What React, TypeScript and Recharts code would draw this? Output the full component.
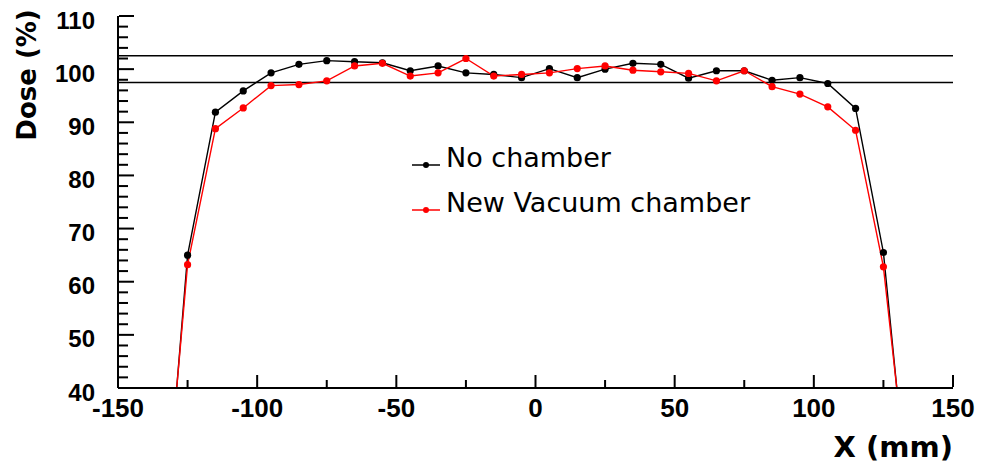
import React from 'react';
import { LineChart, Line, XAxis, YAxis, ReferenceLine, Legend } from 'recharts';

// X positions (mm) of the measurement points
const xPositions = [-130, -125, -115, -105, -95, -85, -75, -65, -55, -45, -35, -25, -15, -5, 5, 15, 25, 35, 45, 55, 65, 75, 85, 95, 105, 115, 125, 130];
// Dose (%) without chamber
const noChamber = [33, 65.0, 91.9, 95.9, 99.3, 100.9, 101.6, 101.4, 101.2, 99.7, 100.6, 99.3, 99.0, 98.4, 100.1, 98.4, 100.0, 101.1, 100.9, 98.3, 99.7, 99.7, 97.9, 98.4, 97.3, 92.6, 65.5, 39];
// Dose (%) with the new vacuum chamber
const newVacuumChamber = [33.5, 63.2, 88.8, 92.7, 96.9, 97.1, 97.8, 100.6, 101.1, 98.7, 99.3, 102.0, 98.7, 99.0, 99.3, 100.1, 100.6, 99.8, 99.5, 99.2, 97.8, 99.7, 96.7, 95.3, 92.9, 88.5, 62.8, 39];

const seriesNames = ['No chamber', 'New Vacuum chamber'];
const seriesColors = ['#000000', '#ff0000'];

const xTicks = [-150, -125, -100, -75, -50, -25, 0, 25, 50, 75, 100, 125, 150];
const xLabelled = [-150, -100, -50, 0, 50, 100, 150];
const yTicks = [40, 42, 44, 46, 48, 50, 52, 54, 56, 58, 60, 62, 64, 66, 68, 70, 72, 74, 76, 78, 80, 82, 84, 86, 88, 90, 92, 94, 96, 98, 100, 102, 104, 106, 108, 110];
const yLabelled = [40, 50, 60, 70, 80, 90, 100, 110];
const toleranceBand = [97.5, 102.5];

const xTitle = 'X (mm)';
const yTitle = 'Dose (%)';

const data = xPositions.map((x, i) => ({ x, noChamber: noChamber[i], newVacuumChamber: newVacuumChamber[i] }));

const tickFont = '"Liberation Sans", Arial, sans-serif';
const titleFont = '"DejaVu Sans", sans-serif';
const tickColor = '#000000';

const YTick = (props: any) => {
  const { x, y, payload } = props;
  const v = payload.value;
  const major = yLabelled.includes(v);
  const len = major ? 15 : 9;
  return (
    <g>
      <rect x={Number(x) + 1} y={Number(y) - 1} width={len} height={2} fill={tickColor} />
      {major && (
        <text x={x - 23} y={y + 4} textAnchor="end" dominantBaseline="central" fontFamily={tickFont} fontWeight="bold" fontSize={24} fill="#000">
          {v}
        </text>
      )}
    </g>
  );
};

const XTick = (props: any) => {
  const { x, y, payload } = props;
  const v = payload.value;
  const major = xLabelled.includes(v);
  const len = major ? 12 : 7;
  return (
    <g>
      <rect x={Number(x) - 1} y={Number(y) - len - 1} width={2} height={len} fill={tickColor} />
      {major && (
        <text x={x} y={y + 29} textAnchor="middle" fontFamily={tickFont} fontWeight="bold" fontSize={26} fill="#000">
          {v}
        </text>
      )}
    </g>
  );
};

const makeDot = (color: string) => (props: any) => {
  const { cx, cy, value, index } = props;
  if (value < 40 || value > 110) return <g key={`d${index}`} />;
  return <circle key={`d${index}`} cx={cx} cy={cy} r={3.6} fill={color} stroke="none" />;
};

const renderLegend = (props: any) => {
  const payload = [...(props.payload || [])].sort(
    (a: any, b: any) => seriesNames.indexOf(a.value) - seriesNames.indexOf(b.value)
  );
  return (
    <svg width={420} height={100} style={{ overflow: 'visible', display: 'block' }}>
      {payload.map((e: any, i: number) => {
        const cy = 25 + i * 45;
        return (
          <g key={e.value}>
            <line x1={0} x2={28} y1={cy} y2={cy} stroke={e.color} strokeWidth={1.5} />
            <circle cx={14} cy={cy} r={3} fill={e.color} />
            <text x={34} y={cy + 2} fontFamily={titleFont} fontSize={27} fill="#000">
              {e.value}
            </text>
          </g>
        );
      })}
    </svg>
  );
};

const YTitle = (props: any) => {
  const vb = props.viewBox || { x: 0, y: 16, width: 118, height: 372 };
  const tx = vb.x + 36;
  const ty = vb.y + 59;
  return (
    <text x={tx} y={ty} transform={`rotate(-90, ${tx}, ${ty})`} textAnchor="middle" fontFamily={titleFont} fontWeight="bold" fontSize={26} fill="#000">
      {yTitle}
    </text>
  );
};

const XTitle = (props: any) => {
  const vb = props.viewBox || { x: 118, y: 388, width: 835, height: 79 };
  return (
    <text x={vb.x + vb.width} y={vb.y + 69} textAnchor="end" fontFamily={titleFont} fontWeight="bold" fontSize={29} fill="#000">
      {xTitle}
    </text>
  );
};

const frameLine = { stroke: '#000', strokeWidth: 2 };

export default function App() {
  return (
    <div style={{ position: 'absolute', left: 0, top: 0, background: '#fff' }}>
      <LineChart width={982} height={467} data={data} margin={{ top: 16, right: 29, bottom: 0, left: 0 }}>
        <XAxis
          dataKey="x"
          type="number"
          domain={[-150, 150]}
          ticks={xTicks}
          interval={0}
          allowDataOverflow
          axisLine={frameLine}
          tickLine={false}
          tickSize={0}
          tickMargin={0}
          height={79}
          tick={<XTick />}
          label={<XTitle />}
        />
        <XAxis
          xAxisId="top"
          orientation="top"
          dataKey="x"
          type="number"
          domain={[-150, 150]}
          allowDataOverflow
          axisLine={frameLine}
          tick={false}
          tickLine={false}
          height={0}
        />
        <YAxis
          type="number"
          domain={[40, 110]}
          ticks={yTicks}
          interval={0}
          allowDataOverflow
          axisLine={frameLine}
          tickLine={false}
          tickSize={0}
          tickMargin={0}
          width={118}
          tick={<YTick />}
          label={<YTitle />}
        />
        <YAxis
          yAxisId="right"
          orientation="right"
          type="number"
          domain={[40, 110]}
          allowDataOverflow
          axisLine={frameLine}
          tick={false}
          tickLine={false}
          width={0}
        />
        {toleranceBand.map((v) => (
          <ReferenceLine key={v} y={v} stroke="#000" strokeWidth={1.5} />
        ))}
        <Legend
          layout="horizontal"
          verticalAlign="middle"
          align="center"
          content={renderLegend}
          wrapperStyle={{ position: 'absolute', left: 412, top: 140, width: 420, height: 100 }}
        />
        <Line
          dataKey="noChamber"
          name={seriesNames[0]}
          stroke={seriesColors[0]}
          strokeWidth={1.4}
          dot={makeDot(seriesColors[0])}
          activeDot={false}
          isAnimationActive={false}
        />
        <Line
          dataKey="newVacuumChamber"
          name={seriesNames[1]}
          stroke={seriesColors[1]}
          strokeWidth={1.4}
          dot={makeDot(seriesColors[1])}
          activeDot={false}
          isAnimationActive={false}
        />
      </LineChart>
    </div>
  );
}
